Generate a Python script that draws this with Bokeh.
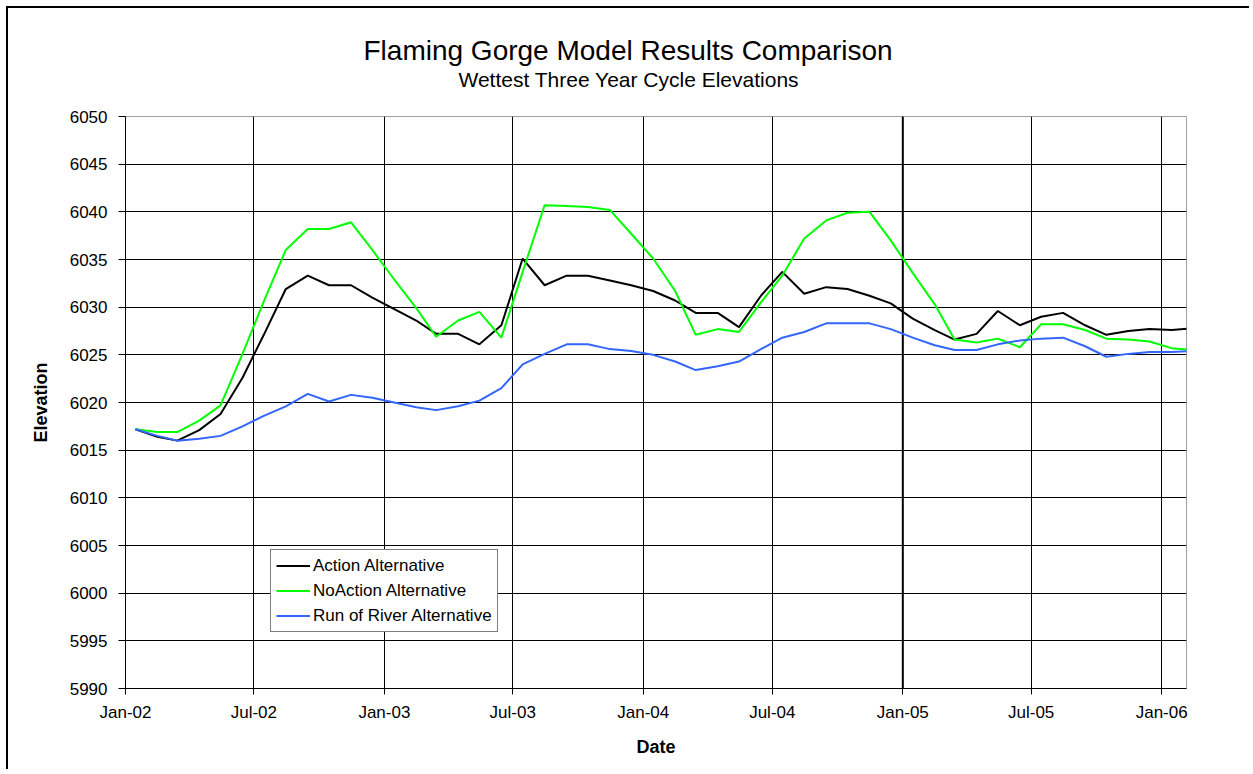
import pandas as pd
from bokeh.plotting import figure
from bokeh.models import (ColumnDataSource, FixedTicker, DatetimeTickFormatter, Legend,
                          LegendItem, Title, Span, Range1d)
from bokeh.embed import file_html
from bokeh.resources import INLINE

# ---------------- data ----------------
months = pd.date_range(start="2002-01-01", periods=50, freq="MS") + pd.Timedelta(days=14)

action = [6017.2, 6016.4, 6016.0, 6017.1, 6018.8, 6022.6, 6027.1, 6031.9, 6033.3, 6032.3,
          6032.3, 6031.0, 6029.8, 6028.6, 6027.2, 6027.2, 6026.1, 6028.1, 6035.1, 6032.3,
          6033.3, 6033.3, 6032.8, 6032.3, 6031.7, 6030.7, 6029.4, 6029.4, 6027.9, 6031.2,
          6033.7, 6031.4, 6032.1, 6031.9, 6031.2, 6030.4, 6028.8, 6027.6, 6026.6, 6027.2,
          6029.6, 6028.1, 6029.0, 6029.4, 6028.1, 6027.1, 6027.5, 6027.7, 6027.6, 6027.8]

no_action = [6017.2, 6016.9, 6016.9, 6018.1, 6019.7, 6025.1, 6030.6, 6036.0, 6038.2, 6038.2,
             6038.9, 6036.0, 6032.9, 6029.9, 6026.9, 6028.6, 6029.5, 6026.8, 6033.7, 6040.7,
             6040.6, 6040.5, 6040.2, 6037.7, 6035.1, 6031.7, 6027.1, 6027.7, 6027.4, 6030.5,
             6033.3, 6037.2, 6039.1, 6039.9, 6040.0, 6037.0, 6033.6, 6030.3, 6026.6, 6026.3,
             6026.7, 6025.8, 6028.2, 6028.2, 6027.6, 6026.7, 6026.6, 6026.4, 6025.7, 6025.5]

run_of_river = [6017.2, 6016.5, 6016.0, 6016.2, 6016.5, 6017.5, 6018.6, 6019.6, 6020.9, 6020.1,
                6020.8, 6020.5, 6020.0, 6019.5, 6019.2, 6019.6, 6020.2, 6021.5, 6024.0, 6025.1,
                6026.1, 6026.1, 6025.6, 6025.4, 6025.0, 6024.3, 6023.4, 6023.8, 6024.3, 6025.6,
                6026.8, 6027.4, 6028.3, 6028.3, 6028.3, 6027.7, 6026.8, 6026.0, 6025.5, 6025.5,
                6026.1, 6026.5, 6026.7, 6026.8, 6025.9, 6024.8, 6025.1, 6025.3, 6025.3, 6025.4]

series_names = ["Action Alternative", "NoAction Alternative", "Run of River Alternative"]
series_colors = ["#000000", "#00FF00", "#3366FF"]

title_text = "Flaming Gorge Model Results Comparison"
subtitle_text = "Wettest Three Year Cycle Elevations"

x_tick_labels = ["Jan-02", "Jul-02", "Jan-03", "Jul-03", "Jan-04", "Jul-04", "Jan-05", "Jul-05", "Jan-06"]
x_tick_dates = pd.to_datetime(["2002-01-01", "2002-07-01", "2003-01-01", "2003-07-01", "2004-01-01",
                               "2004-07-01", "2005-01-01", "2005-07-01", "2006-01-01"])
y_ticks = [5990, 5995, 6000, 6005, 6010, 6015, 6020, 6025, 6030, 6035, 6040, 6045, 6050]

x_start = pd.Timestamp("2002-01-01")
x_end = pd.Timestamp("2006-02-05")

FONT = "Liberation Sans"

def ms(ts):
    return ts.value / 1e6

source = ColumnDataSource(dict(date=months, action=action, no_action=no_action, ror=run_of_river))

p = figure(width=1243, height=763, x_axis_type="datetime", output_backend="svg",
           toolbar_location=None,
           x_range=Range1d(ms(x_start), ms(x_end)), y_range=Range1d(y_ticks[0], y_ticks[-1]),
           min_border_left=117, min_border_right=65, min_border_top=108, min_border_bottom=83,
           title=title_text)
p.styles = {"border-left": "2px solid black", "border-top": "2px solid black",
            "margin-left": "6px", "margin-top": "6px"}

p.title.align = "left"
p.title.offset = 238
p.title.text_font = FONT
p.title.text_font_size = "28px"
p.title.text_font_style = "normal"
p.title.text_color = "#000000"
p.title.vertical_align = "bottom"
p.title.standoff = -53
p.add_layout(Title(text=subtitle_text, align="left", offset=333, vertical_align="bottom",
                   text_font=FONT, text_font_size="21px", text_font_style="normal",
                   text_color="#000000", standoff=52), "above")

p.background_fill_color = "white"
p.border_fill_color = "white"
p.outline_line_color = "#a0a0a0"
p.outline_line_width = 1

# grid
p.xgrid.ticker = FixedTicker(ticks=[ms(t) for t in x_tick_dates])
p.ygrid.ticker = FixedTicker(ticks=y_ticks[1:-1])
for g in (p.xgrid, p.ygrid):
    g.grid_line_color = "black"
    g.grid_line_alpha = 1.0
    g.grid_line_width = 1

jan05 = Span(location=ms(x_tick_dates[6]), dimension="height", line_color="black", line_width=2,
             level="underlay")
p.add_layout(jan05)

# axes
p.xaxis.ticker = FixedTicker(ticks=[ms(t) for t in x_tick_dates])
p.xaxis.formatter = DatetimeTickFormatter(years="%b-%y", months="%b-%y", days="%b-%y",
                                          hours="%b-%y", minutes="%b-%y", seconds="%b-%y",
                                          milliseconds="%b-%y", microseconds="%b-%y",
                                          hourmin="%b-%y", minsec="%b-%y")
p.yaxis.ticker = FixedTicker(ticks=y_ticks)
p.xaxis.axis_label = "Date"
p.yaxis.axis_label = "Elevation"
for ax in (p.xaxis, p.yaxis):
    ax.axis_line_color = "black"
    ax.axis_line_width = 1
    ax.major_tick_line_color = "black"
    ax.major_tick_in = 0
    ax.minor_tick_line_color = None
    ax.major_label_text_font = FONT
    ax.major_label_text_font_size = "17px"
    ax.major_label_text_color = "#000000"
    ax.axis_label_text_font = FONT
    ax.axis_label_text_font_size = "18px"
    ax.axis_label_text_font_style = "bold"
    ax.axis_label_text_color = "#000000"
p.xaxis.major_tick_out = 6
p.yaxis.major_tick_out = 7
p.xaxis.major_label_standoff = 8
p.yaxis.major_label_standoff = 11
p.xaxis.axis_label_standoff = 12
p.yaxis.axis_label_standoff = 16

# lines
cols = ["action", "no_action", "ror"]
renderers = []
for col, color in zip(cols, series_colors):
    r = p.line("date", col, source=source, line_color=color, line_width=2)
    renderers.append(r)

legend = Legend(items=[LegendItem(label=n, renderers=[r]) for n, r in zip(series_names, renderers)],
                location=(145, 56))
legend.label_text_font = FONT
legend.label_text_font_size = "17px"
legend.label_text_color = "#000000"
legend.border_line_color = "black"
legend.border_line_width = 1
legend.background_fill_color = "white"
legend.background_fill_alpha = 1.0
legend.glyph_width = 34
legend.glyph_height = 21
legend.label_height = 21
legend.label_standoff = 3
legend.padding = 5
legend.spacing = 4
legend.margin = 0
p.add_layout(legend)

open("out.html", "w").write(file_html(p, INLINE))
